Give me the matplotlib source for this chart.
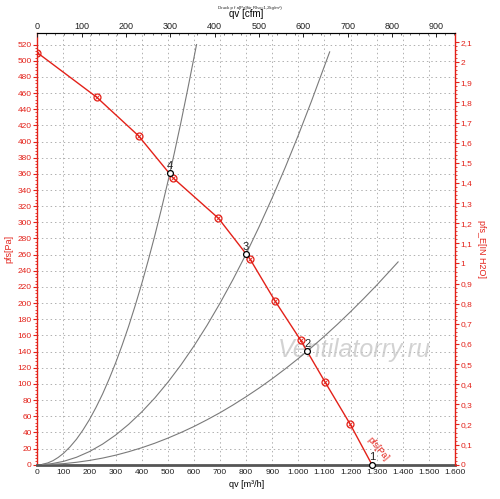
import numpy as np
import matplotlib
matplotlib.use("Agg")
import matplotlib.pyplot as plt
from matplotlib.ticker import MultipleLocator, FixedLocator, FuncFormatter

plt.rcParams['font.family'] = ['Liberation Sans', 'DejaVu Sans']

# fan curve (markers along it), m3/h vs Pa
fan_q = [0, 227, 388, 520, 694, 814, 910, 1009, 1101, 1197, 1282]
fan_p = [510, 455, 407, 355, 305, 255, 203, 154, 103, 51, 0]

# system curves
sys1_q = [20, 40, 60, 80, 100, 125, 150, 175, 200, 225, 250, 275, 300, 325,
          350, 375, 400, 425, 450, 475, 500, 525, 550, 575, 610]
sys1_p = [0.6, 2.2, 5, 9, 14, 22, 31.5, 43, 56, 71, 87.5, 106, 126, 148,
          171.5, 197, 224, 253, 283.5, 316, 350, 386, 423.5, 463, 520]
sys2_q = [20, 50, 100, 150, 200, 250, 300, 350, 400, 450, 500, 550, 600,
          650, 700, 750, 800, 850, 900, 950, 1000, 1050, 1120]
sys2_p = [0.2, 1, 4.1, 9.2, 16.3, 25.5, 36.7, 50, 65.3, 82.6, 102, 123.4, 146.9,
          172.4, 200, 229.5, 261, 294.8, 330.5, 368.2, 408, 449.8, 511]
sys3_q = [20, 100, 150, 200, 250, 300, 350, 400, 450, 500, 550, 600, 650, 700,
          750, 800, 850, 900, 950, 1000, 1050, 1100, 1150, 1200, 1250, 1300,
          1350, 1382]
sys3_p = [0.05, 1.3, 3, 5.3, 8.2, 11.8, 16.1, 21, 26.6, 32.9, 39.8, 47.3, 55.6,
          64.4, 74, 84.2, 95, 106.5, 118.7, 131.5, 145, 159.1, 173.9, 189.4,
          205.5, 222.2, 239.7, 251]

# operating points
op_q = [1282, 1035, 799, 508]
op_p = [0, 141, 261, 361]
op_lbl = ["1", "2", "3", "4"]

RED = "#e32119"
GRAY = "#7a7a7a"
CFM = 1.699      # m3/h per cfm
INH2O = 249.09   # Pa per in H2O

fig = plt.figure(figsize=(5.0, 4.99), dpi=100)
ax = fig.add_axes([0.0746, 0.0687, 0.8354, 0.8646])
qmax, pmax = 1600, 534
ax.set_xlim(0, qmax)
ax.set_ylim(0, pmax)

for q, p in [(sys1_q, sys1_p), (sys2_q, sys2_p), (sys3_q, sys3_p)]:
    ax.plot(q, p, color=GRAY, lw=0.8, zorder=3)

ax.plot(fan_q, fan_p, color=RED, lw=1.0, zorder=4)
ax.plot(fan_q[:-1], fan_p[:-1], ls="none", marker="o", ms=5, mfc="none",
        mec=RED, mew=0.9, zorder=5)
ax.plot(fan_q[:-1], fan_p[:-1], ls="none", marker="x", ms=2.2,
        mec=RED, mew=0.6, zorder=5)

ax.plot(op_q, op_p, ls="none", marker="o", ms=4.2, mfc="white", mec="black",
        mew=0.9, zorder=6, clip_on=False)
for q, p, t in zip(op_q, op_p, op_lbl):
    ax.text(q, p + 9, t, ha="center", va="center", fontsize=8, color="#222222", zorder=7)

ax.text(1305, 20, "pfs[Pa]", color=RED, fontsize=6.5, rotation=-50,
        rotation_mode="anchor", ha="center", va="center", zorder=7)

ax.text(1215, 142, "Ventilatorry.ru", fontsize=18, style="italic",
        color="#c4c4c4", alpha=0.75, ha="center", va="center", zorder=2)

# grid
for q in range(100, qmax, 100):
    ax.axvline(q, color="#b0b0b0", lw=0.7, ls=(0, (1.5, 3)), zorder=1)
for p in range(20, 521, 20):
    ax.axhline(p, color="#b0b0b0", lw=0.7, ls=(0, (1.5, 3)), zorder=1)

# bottom / left axes
ax.xaxis.set_major_locator(MultipleLocator(100))
ax.xaxis.set_major_formatter(FuncFormatter(lambda v, pos: f"{int(v):,}".replace(",", ".")))
ax.tick_params(axis="x", labelsize=6, length=0, pad=3, colors="#222222")
ax.yaxis.set_major_locator(FixedLocator(range(0, 521, 20)))
ax.yaxis.set_minor_locator(FixedLocator(range(0, 521, 4)))
ax.tick_params(axis="y", which="major", labelsize=6, length=3, width=0.8,
               colors=RED, pad=1)
ax.tick_params(axis="y", which="minor", length=1.5, width=0.6, colors=RED)
ax.spines["left"].set_color(RED)
ax.spines["left"].set_linewidth(1.0)
ax.spines["bottom"].set_color("#555555")
ax.spines["bottom"].set_linewidth(2.0)
ax.spines["right"].set_visible(False)
ax.spines["top"].set_color("#555555")
ax.spines["top"].set_linewidth(0.8)
ax.set_xlabel("qv [m³/h]", fontsize=6.5, labelpad=3)
ax.set_ylabel("pfs[Pa]", fontsize=6.5, color=RED, labelpad=3)

# right axis in H2O
axr = ax.twinx()
axr.set_ylim(0, pmax / INH2O)
axr.yaxis.set_major_locator(FixedLocator(np.round(np.arange(0, 2.11, 0.1), 2)))
axr.yaxis.set_minor_locator(FixedLocator(np.round(np.arange(0, 2.11, 0.02), 3)))
axr.yaxis.set_major_formatter(FuncFormatter(lambda v, pos: f"{v:g}".replace(".", ",")))
axr.tick_params(axis="y", which="major", labelsize=6, length=3, width=0.8,
                colors=RED, pad=1)
axr.tick_params(axis="y", which="minor", length=1.5, width=0.6, colors=RED)
axr.spines["right"].set_color(RED)
axr.spines["right"].set_linewidth(1.0)
for s in ["left", "top", "bottom"]:
    axr.spines[s].set_visible(False)
axr.set_ylabel("pfs_E[IN H2O]", fontsize=6.5, color=RED, rotation=-90, labelpad=10)

# top axis cfm
axt = ax.twiny()
axt.set_xlim(0, qmax / CFM)
axt.xaxis.set_major_locator(MultipleLocator(100))
axt.xaxis.set_minor_locator(MultipleLocator(20))
axt.tick_params(axis="x", which="major", labelsize=6.5, direction="in",
                length=3, width=0.7, pad=2, colors="#222222")
axt.tick_params(axis="x", which="minor", direction="in", length=1.5, width=0.6,
                colors="#555555")
for s in ["left", "right", "bottom"]:
    axt.spines[s].set_visible(False)
axt.set_xlabel("qv [cfm]", fontsize=7, labelpad=3)

fig.text(0.5, 0.984, "Druck p f a[Pa]für Rho=1,2kg/m³)", fontsize=3.2,
         ha="center", va="center", color="#222222")

fig.savefig("out.png", dpi=100, facecolor="white")
